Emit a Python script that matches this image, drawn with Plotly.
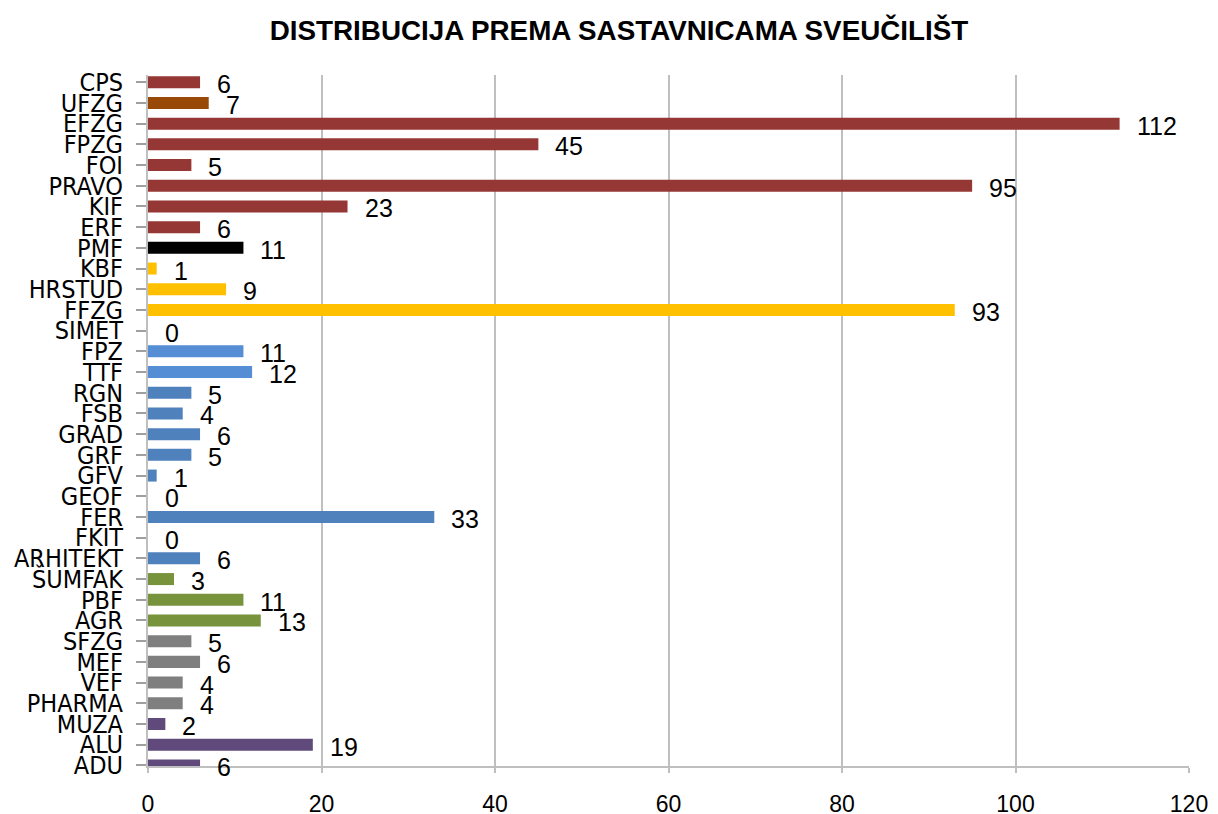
import plotly.graph_objects as go

categories = ["CPS", "UFZG", "EFZG", "FPZG", "FOI", "PRAVO", "KIF", "ERF", "PMF", "KBF",
              "HRSTUD", "FFZG", "SIMET", "FPZ", "TTF", "RGN", "FSB", "GRAD", "GRF", "GFV",
              "GEOF", "FER", "FKIT", "ARHITEKT", "ŠUMFAK", "PBF", "AGR", "SFZG", "MEF", "VEF",
              "PHARMA", "MUZA", "ALU", "ADU"]
values = [6, 7, 112, 45, 5, 95, 23, 6, 11, 1,
          9, 93, 0, 11, 12, 5, 4, 6, 5, 1,
          0, 33, 0, 6, 3, 11, 13, 5, 6, 4,
          4, 2, 19, 6]
RED = "#953735"; ORG = "#984807"; BLK = "#000000"; YEL = "#FFC000"
LBL = "#558ED5"; BLU = "#4F81BD"; GRN = "#77933C"; GRY = "#7F7F7F"; PUR = "#604A7B"
colors = [RED, ORG, RED, RED, RED, RED, RED, RED, BLK, YEL,
          YEL, YEL, YEL, LBL, LBL, BLU, BLU, BLU, BLU, BLU,
          BLU, BLU, BLU, BLU, GRN, GRN, GRN, GRY, GRY, GRY,
          GRY, PUR, PUR, PUR]
x_ticks = [0, 20, 40, 60, 80, 100, 120]
title = "DISTRIBUCIJA PREMA SASTAVNICAMA SVEUČILIŠT"

FONT = "Liberation Sans"
COND = "DejaVu Sans Condensed, Liberation Sans"

cats_r = categories[::-1]
vals_r = values[::-1]
cols_r = colors[::-1]

fig = go.Figure()
fig.add_trace(go.Bar(
    x=vals_r, y=cats_r, orientation="h",
    marker=dict(color=cols_r, line=dict(width=0)),
    hoverinfo="x+y", showlegend=False,
))

for c, v in zip(cats_r, vals_r):
    fig.add_annotation(x=v, y=c, text=str(v), showarrow=False,
                       xanchor="left", yanchor="middle", xshift=15, yshift=-2,
                       font=dict(family=FONT, size=25, color="#000000"))

# page body has an 8px margin, so offsets below are compensated
fig.update_layout(
    width=1218, height=814,
    margin=dict(l=140, r=37, t=67, b=56, autoexpand=False),
    paper_bgcolor="white", plot_bgcolor="white",
    bargap=0.42,
    title=dict(text="<b>" + title + "</b>", x=(619 - 8) / 1218, xanchor="center",
               y=1 - 22 / 814, yanchor="middle", yref="container",
               font=dict(family=FONT, size=27.8, color="#000000")),
    xaxis=dict(range=[0, 120], tickmode="array", tickvals=x_ticks,
               ticktext=[str(t) for t in x_ticks], automargin=False,
               showgrid=True, gridcolor="#BFBFBF", gridwidth=2,
               showline=True, linecolor="#BFBFBF", linewidth=2,
               ticks="outside", ticklen=5, tickcolor="#BFBFBF", tickwidth=2,
               ticklabelstandoff=11, zeroline=False,
               tickfont=dict(family=FONT, size=23, color="#000000")),
    yaxis=dict(type="category", categoryorder="array", categoryarray=cats_r,
               tickmode="array", tickvals=cats_r, ticktext=cats_r, automargin=False,
               range=[-0.03, 33.35], showgrid=False,
               showline=True, linecolor="#BFBFBF", linewidth=2,
               ticks="outside", ticklen=10, tickcolor="#9F9F9F", tickwidth=2,
               ticklabelstandoff=8,
               tickfont=dict(family=COND, size=25, color="#000000")),
)

fig.write_html("out.html")
